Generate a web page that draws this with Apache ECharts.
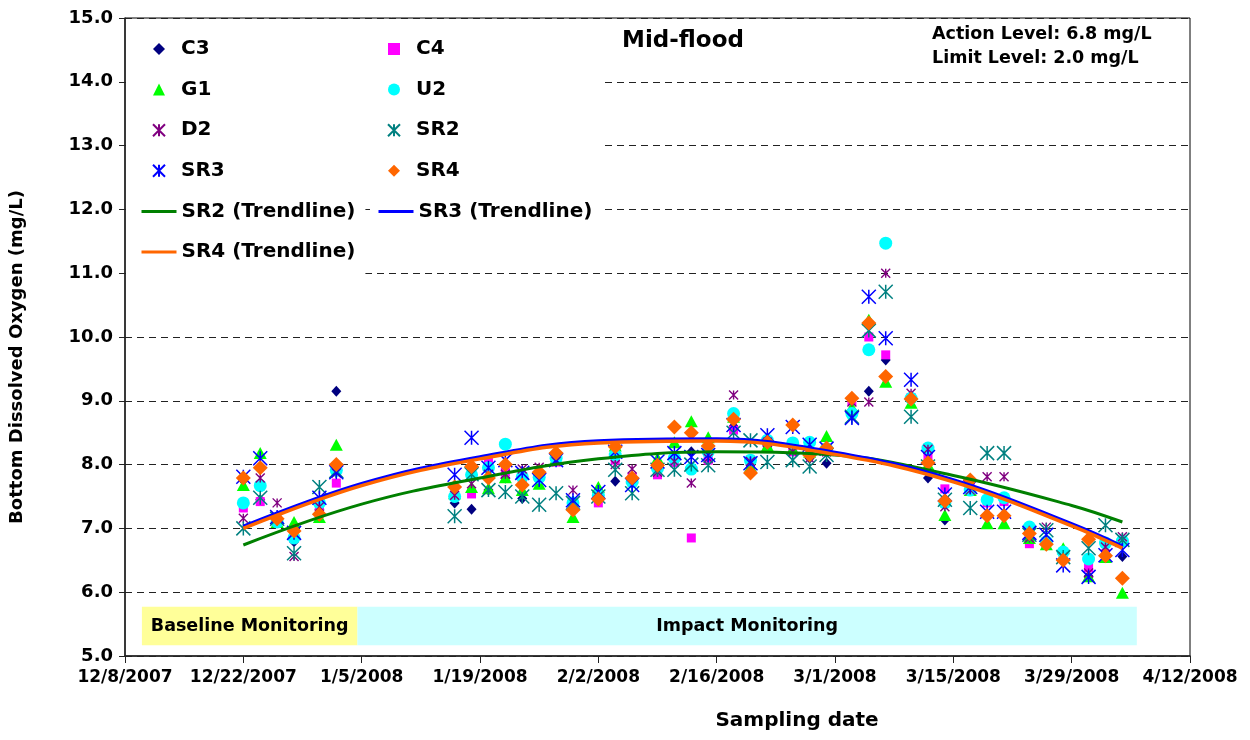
<!DOCTYPE html>
<html><head><meta charset="utf-8">
<script src="https://cdn.jsdelivr.net/npm/echarts@6/dist/echarts.min.js"></script>
<style>html,body{margin:0;padding:0;background:#fff}#c{width:1250px;height:740px}</style>
</head><body><div id="c"></div>
<script>
// ---------------- data ----------------
const dates = ['2007-12-22','2007-12-24','2007-12-26','2007-12-28','2007-12-31','2008-01-02',
  '2008-01-16','2008-01-18','2008-01-20','2008-01-22','2008-01-24','2008-01-26','2008-01-28','2008-01-30',
  '2008-02-02','2008-02-04','2008-02-06','2008-02-09','2008-02-11','2008-02-13','2008-02-15',
  '2008-02-18','2008-02-20','2008-02-22','2008-02-25','2008-02-27','2008-02-29',
  '2008-03-03','2008-03-05','2008-03-07','2008-03-10','2008-03-12','2008-03-14',
  '2008-03-17','2008-03-19','2008-03-21','2008-03-24','2008-03-26','2008-03-28',
  '2008-03-31','2008-04-02','2008-04-04'];

const C3  = [7.75,7.45,7.12,6.79,7.30,9.15, 7.40,7.30,7.60,7.79,7.47,7.75,8.10,7.30, 7.50,7.74,7.80,7.90,8.10,8.20,8.30, 8.60,8.00,8.30,8.30,8.10,8.02, 8.85,9.15,9.64,9.00,7.79,7.13, 7.60,7.20,7.20,6.85,6.80,6.50, 6.25,6.60,6.56];
const C4  = [7.32,7.42,7.08,6.85,7.27,7.71, 7.50,7.54,8.07,7.88,7.75,7.80,8.04,7.35, 7.40,8.07,7.80,7.84,8.03,6.85,8.07, 8.54,8.00,8.30,8.20,8.20,8.20, 9.00,10.00,9.72,9.05,8.10,7.62, 7.65,7.40,7.42,6.76,6.75,6.55, 6.38,6.60,6.80];
const G1  = [7.68,8.18,7.10,7.10,7.18,8.31, 7.55,7.65,7.63,7.80,7.60,7.70,8.10,7.18, 7.65,8.30,7.80,8.10,8.35,8.68,8.43, 8.75,7.97,8.30,8.25,8.20,8.45, 8.90,10.27,9.30,8.97,8.00,7.21, 7.60,7.08,7.08,6.85,6.75,6.69, 6.25,6.55,5.99];
const U2  = [7.40,7.67,7.10,6.85,7.40,7.91, 7.50,7.84,7.95,8.32,7.81,7.80,8.10,7.40, 7.52,8.15,7.73,7.94,8.10,7.93,8.20, 8.80,8.07,8.38,8.34,8.35,8.25, 8.80,9.80,11.47,9.04,8.26,7.40, 7.60,7.45,7.48,7.02,6.79,6.63, 6.52,6.77,6.80];
const D2  = [7.16,7.79,7.40,6.56,7.34,7.87, 7.52,7.70,7.85,7.85,7.93,7.96,8.05,7.60, 7.50,8.00,7.93,7.88,8.05,7.71,8.10, 9.09,8.05,8.35,8.20,8.10,8.20, 8.98,8.98,11.00,9.12,8.24,7.34, 7.60,7.81,7.81,6.85,7.02,6.55, 6.30,6.71,6.87];
const SR2 = [7.00,7.48,7.15,6.61,7.65,7.90, 7.19,7.85,7.60,7.57,7.50,7.37,7.55,7.40, 7.50,7.92,7.55,7.92,7.92,8.00,7.99, 8.50,8.38,8.04,8.07,7.97,8.15, 8.75,10.10,10.71,8.75,7.97,7.45, 7.32,8.18,8.18,6.90,6.97,6.55, 6.69,7.05,6.82];
const SR3 = [7.81,8.10,7.18,6.93,7.48,7.88, 7.84,8.42,7.95,8.07,7.87,7.76,8.07,7.44, 7.57,8.20,7.68,8.05,8.18,8.12,8.15, 8.62,8.02,8.46,8.59,8.31,8.25, 8.73,10.63,9.98,9.33,8.12,7.53, 7.65,7.26,7.26,6.93,6.90,6.42, 6.24,6.58,6.66];
const SR4 = [7.79,7.95,7.15,6.96,7.22,8.00, 7.65,7.97,7.79,8.00,7.68,7.88,8.18,7.29, 7.46,8.28,7.79,7.99,8.59,8.50,8.29, 8.71,7.87,8.35,8.62,8.15,8.26, 9.04,10.22,9.38,9.03,8.03,7.43, 7.76,7.20,7.20,6.92,6.75,6.50, 6.83,6.57,6.22];

const trendDates = ['2007-12-22','2008-01-05','2008-01-19','2008-02-02','2008-02-16','2008-03-01','2008-03-15','2008-03-29','2008-04-04'];
const SR2_trend = [6.74,7.38,7.79,8.09,8.20,8.15,7.83,7.36,7.10];
const SR3_trend = [7.03,7.70,8.12,8.37,8.40,8.19,7.76,7.07,6.72];
const SR4_trend = [7.00,7.67,8.09,8.34,8.37,8.16,7.73,7.04,6.69];

const xRange = ['2007-12-08','2008-04-12'];
const xStepDays = 14;
const yRange = [5, 15];
const yStep = 1;

const bands = [
  {label:'Baseline Monitoring', from:'2007-12-10', to:'2008-01-04T12:00', low:5.17, high:5.77, color:'#FFFF99'},
  {label:'Impact Monitoring',   from:'2008-01-04T12:00', to:'2008-04-05T17:00', low:5.17, high:5.77, color:'#CCFFFF'}
];

const chartTitle = 'Mid-flood';
const noteText = 'Action Level: 6.8 mg/L\nLimit Level: 2.0 mg/L';
const yTitle = 'Bottom Dissolved Oxygen (mg/L)';
const xTitle = 'Sampling date';

// ---------------- helpers ----------------
const DAY = 86400000;
function t(s){ return Date.parse(s.length === 10 ? s + 'T00:00:00Z' : s + ':00Z'); }
function fmtDate(v){ const d = new Date(v); return (d.getUTCMonth()+1) + '/' + d.getUTCDate() + '/' + d.getUTCFullYear(); }
function pts(xs, ys){ return xs.map((d,i)=>[t(d), ys[i]]); }

const FONT = 'DejaVu Sans';
const STAR = 'path://M0,0L10,10M10,0L0,10M5,0L5,10';

function sc(name, vals, symbol, size, color, stroke){
  const s = {name, type:'scatter', data: pts(dates, vals), symbol, symbolSize:size, z:3};
  if (stroke) s.itemStyle = {color:'rgba(0,0,0,0)', borderColor:color, borderWidth:stroke, opacity:1};
  else s.itemStyle = {color, opacity:1};
  return s;
}
function tl(name, vals, color, width){
  return {name, type:'line', data: pts(trendDates, vals), smooth:0.4, symbol:'none', z:4,
    lineStyle:{color, width}, itemStyle:{color}};
}

const series = [
  {name:'bands', type:'line', data:[], silent:true, z:1,
   markArea:{silent:true, z:1,
     label:{show:true, position:'inside', color:'#000', fontFamily:FONT, fontWeight:'bold', fontSize:17.5},
     data: bands.map(b=>[{name:b.label, xAxis:t(b.from), yAxis:b.low, itemStyle:{color:b.color, opacity:1}},
                         {xAxis:t(b.to), yAxis:b.high}])}},
  sc('C3', C3, 'diamond', [10,11], '#000080'),
  sc('C4', C4, 'rect', 9, '#FF00FF'),
  sc('G1', G1, 'triangle', [13,12], '#00FF00'),
  sc('U2', U2, 'circle', 13, '#00FFFF'),
  sc('D2', D2, STAR, 9, '#800080', 1.4),
  sc('SR2', SR2, STAR, 14, '#008080', 1.5),
  sc('SR3', SR3, STAR, 14, '#0000FF', 1.5),
  sc('SR4', SR4, 'diamond', [15,15], '#FF6600'),
  tl('SR2 (Trendline)', SR2_trend, '#008000', 3),
  tl('SR3 (Trendline)', SR3_trend, '#0000FF', 3.5),
  tl('SR4 (Trendline)', SR4_trend, '#FF6600', 3.5)
];

const txt = {fontFamily:FONT, fontWeight:'bold', fontSize:20, lineHeight:20, color:'#000'};
const txtShift = Object.assign({}, txt, {padding:[0,0,0,11]});
const lg = {orient:'vertical', itemGap:20.6, itemHeight:12, backgroundColor:'#fff', selectedMode:false};
const noDot = n => ({name:n, itemStyle:{opacity:0}});

const chart = echarts.init(document.getElementById('c'), null, {renderer:'canvas'});
chart.setOption({
  animation:false,
  backgroundColor:'#fff',
  title:[
    {text:chartTitle, left:622, top:30, padding:0, textStyle:{fontFamily:FONT, fontWeight:'bold', fontSize:23, color:'#000'}},
    {text:noteText, left:932, top:22, padding:0, textStyle:{fontFamily:FONT, fontWeight:'bold', fontSize:17.5, lineHeight:24, color:'#000'}}
  ],
  legend:[
    Object.assign({}, lg, {left:126, top:20, padding:[19,146,11,26], itemWidth:12, textStyle:txtShift,
      data:['C3','G1','D2','SR3']}),
    Object.assign({}, lg, {left:126, top:191.4, padding:[10,10,18,14], itemWidth:35, textStyle:txt, lineStyle:{width:3},
      data:[noDot('SR2 (Trendline)'), noDot('SR4 (Trendline)')]}),
    Object.assign({}, lg, {left:370, top:20, padding:[19,142,11,17], itemWidth:12, textStyle:txtShift,
      data:['C4','U2','SR2','SR4']}),
    Object.assign({}, lg, {left:370, top:191.4, padding:[10,8,10,7], itemWidth:35, textStyle:txt, lineStyle:{width:3},
      data:[noDot('SR3 (Trendline)')]})
  ],
  grid:{left:125, right:60, top:18, bottom:84, show:true, borderColor:'#000', borderWidth:1, backgroundColor:'#fff'},
  xAxis:{
    type:'value', min:t(xRange[0]), max:t(xRange[1]), interval:xStepDays*DAY,
    name:xTitle, nameLocation:'middle', nameGap:55,
    nameTextStyle:{fontFamily:FONT, fontWeight:'bold', fontSize:20, color:'#000', padding:[0,0,0,279]},
    axisLine:{show:true, lineStyle:{color:'#222', width:1.5}},
    axisTick:{show:true, length:7, lineStyle:{color:'#222'}},
    axisLabel:{formatter:fmtDate, fontFamily:FONT, fontWeight:'bold', fontSize:17, color:'#000', margin:13, showMinLabel:true, showMaxLabel:true},
    splitLine:{show:false}
  },
  yAxis:{
    type:'value', min:yRange[0], max:yRange[1], interval:yStep,
    name:yTitle, nameLocation:'middle', nameGap:99,
    nameTextStyle:{fontFamily:FONT, fontWeight:'bold', fontSize:18, color:'#000', padding:[0,40,0,0]},
    axisLine:{show:true, lineStyle:{color:'#222', width:1.5}},
    axisTick:{show:true, length:6, lineStyle:{color:'#222'}},
    axisLabel:{formatter:v=>v.toFixed(1), fontFamily:FONT, fontWeight:'bold', fontSize:18, color:'#000', margin:12},
    splitLine:{show:true, lineStyle:{color:'#222', width:1, type:[7,5]}}
  },
  series
});
</script></body></html>
